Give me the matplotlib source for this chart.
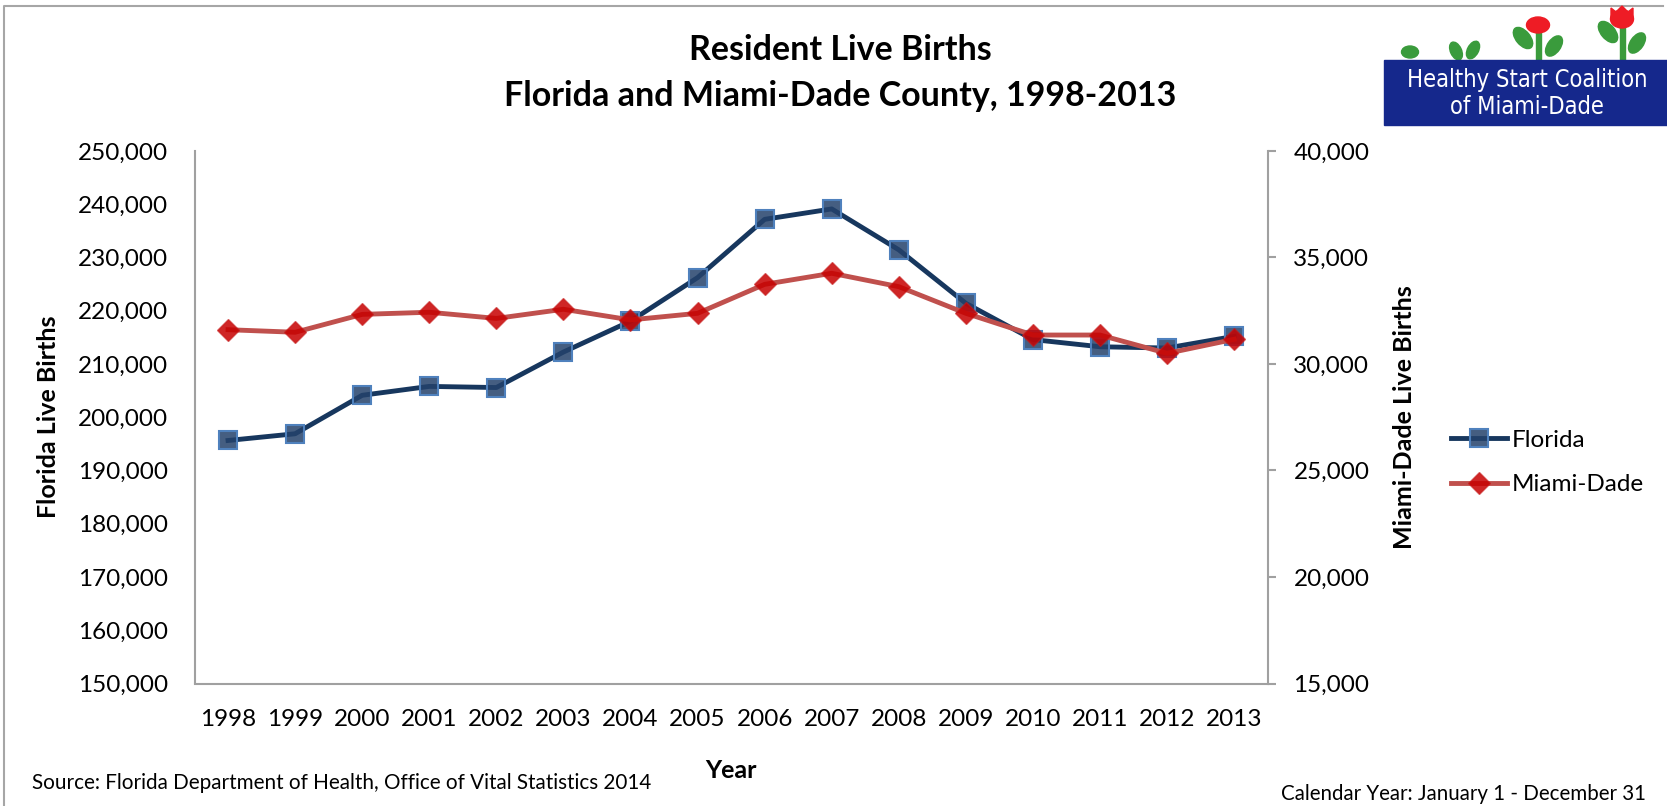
import matplotlib
matplotlib.use('Agg')
from matplotlib import pyplot as plt
from matplotlib.patches import Ellipse, Rectangle, Polygon

# data
years = ['1998', '1999', '2000', '2001', '2002', '2003', '2004', '2005',
         '2006', '2007', '2008', '2009', '2010', '2011', '2012', '2013']
florida = [195637, 196900, 204125, 205793, 205580, 212243, 218045, 226219,
           237166, 239120, 231445, 221394, 214590, 213237, 213000, 215194]
miami_dade = [31610, 31490, 32330, 32430, 32140, 32570, 32070, 32380,
              33740, 34260, 33630, 32380, 31360, 31360, 30500, 31160]

left_ticks = [150000, 160000, 170000, 180000, 190000, 200000,
              210000, 220000, 230000, 240000, 250000]
right_ticks = [15000, 20000, 25000, 30000, 35000, 40000]

plt.rcParams['font.family'] = ['Lato', 'DejaVu Sans']

W, H = 1667, 806
fig = plt.figure(figsize=(W / 100, H / 100), dpi=100)

# background layer in pixel coords: border + logo
bg = fig.add_axes([0, 0, 1, 1], zorder=-5)
bg.set_xlim(0, W)
bg.set_ylim(H, 0)
bg.axis('off')
bg.plot([4, 4, 1663], [H, 6, 6], color='#A6A6A6', lw=1.5)

green = '#3A9B3C'
red = '#EE1C25'
bg.add_patch(Rectangle((1384, 60), 290, 65, color='#15288C', zorder=3))


def leaf(cx, cy, length, width, screen_angle):
    bg.add_patch(Ellipse((cx, cy), length, width, angle=-screen_angle, color=green, zorder=2))


# lone sprout and leaf pair
bg.add_patch(Ellipse((1410, 52), 17, 12, color=green, zorder=2))
leaf(1456, 51, 19, 11, 115)
leaf(1473, 50, 19, 11, 62)
# tulip 1
bg.add_patch(Rectangle((1536, 30), 4.5, 32, color=green, zorder=2))
bg.add_patch(Ellipse((1538, 25), 23, 16, color=red, zorder=2))
leaf(1523, 38, 25, 14, 130)
leaf(1554, 46, 23, 13, 55)
# tulip 2
bg.add_patch(Rectangle((1620, 24), 4.5, 38, color=green, zorder=2))
bg.add_patch(Ellipse((1622, 19), 23, 18, color=red, zorder=2))
bg.add_patch(Polygon([(1611, 18), (1611, 8), (1616, 12), (1622, 6), (1628, 12),
                      (1633, 8), (1633, 18)], color=red, zorder=2))
leaf(1608, 32, 25, 14, 130)
leaf(1637, 43, 23, 13, 55)

bg.text(1527, 80, 'Healthy Start Coalition', color='white', fontsize=17,
        ha='center', va='center', family='DejaVu Sans', fontstretch='condensed', zorder=4)
bg.text(1527, 107, 'of Miami-Dade', color='white', fontsize=17,
        ha='center', va='center', family='DejaVu Sans', fontstretch='condensed', zorder=4)

# main chart
ax = fig.add_axes([194.5 / W, 1 - 683.5 / H, (1267.7 - 194.5) / W, (683.5 - 151) / H])
ax2 = ax.twinx()
x = list(range(len(years)))

fl_line, = ax.plot(x, florida, color='#17375E', lw=3.5, marker='s', markersize=13,
                   markerfacecolor=(0.14, 0.26, 0.42, 0.85), markeredgecolor='#4F81BD',
                   markeredgewidth=1.5, label='Florida')
md_line, = ax2.plot(x, miami_dade, color='#C0504D', lw=3.5, marker='D', markersize=11,
                    markerfacecolor=(0.78, 0.0, 0.0, 0.85), markeredgecolor=(0.78, 0.1, 0.1, 0.6),
                    markeredgewidth=1.0, label='Miami-Dade')

ax.set_xlim(-0.5, len(years) - 0.5)
ax.set_ylim(150000, 250000)
ax2.set_ylim(15000, 40000)
ax.set_xticks(x)
ax.set_xticklabels(years)
ax.set_yticks(left_ticks)
ax.set_yticklabels([f'{v:,}' for v in left_ticks])
ax2.set_yticks(right_ticks)
ax2.set_yticklabels([f'{v:,}' for v in right_ticks])

for a in (ax, ax2):
    a.spines['top'].set_visible(False)
    for s in ('left', 'right', 'bottom'):
        a.spines[s].set_color('#A0A0A0')
        a.spines[s].set_linewidth(1.5)
ax.spines['right'].set_visible(False)
ax2.spines['left'].set_visible(False)
ax2.spines['bottom'].set_visible(False)

ax.tick_params(axis='y', length=0, pad=19, labelsize=17.5)
ax.tick_params(axis='x', length=0, pad=18.5, labelsize=17.5)
ax2.tick_params(axis='y', length=6, width=1.5, color='#A0A0A0', pad=12.5, labelsize=17.5)

ax.set_xlabel('Year', fontsize=18, fontweight='bold')
ax.xaxis.set_label_coords(0.5, -0.142)
ax.set_ylabel('Florida Live Births', fontsize=18, fontweight='bold')
ax.yaxis.set_label_coords(-0.125, 0.5)
ax2.set_ylabel('Miami-Dade Live Births', fontsize=18, fontweight='bold', rotation=90)
ax2.yaxis.set_label_coords(1.117, 0.5)

fig.legend(handles=[fl_line, md_line], loc='center left', bbox_to_anchor=(1451 / W, 1 - 462.5 / H),
           frameon=False, fontsize=17.5, handlelength=2.3, handletextpad=0.2,
           labelspacing=0.95, borderpad=0, borderaxespad=0)

fig.text(840 / W, 1 - 50 / H, 'Resident Live Births', ha='center', va='center',
         fontsize=24.5, fontweight='bold')
fig.text(840 / W, 1 - 96 / H, 'Florida and Miami-Dade County, 1998-2013', ha='center',
         va='center', fontsize=24.5, fontweight='bold')
fig.text(32 / W, 1 - 783 / H, 'Source: Florida Department of Health, Office of Vital Statistics 2014',
         ha='left', va='center', fontsize=14.9)
fig.text(1646 / W, 1 - 794 / H, 'Calendar Year: January 1 - December 31',
         ha='right', va='center', fontsize=14.8)

fig.savefig('out.png', dpi=100)
